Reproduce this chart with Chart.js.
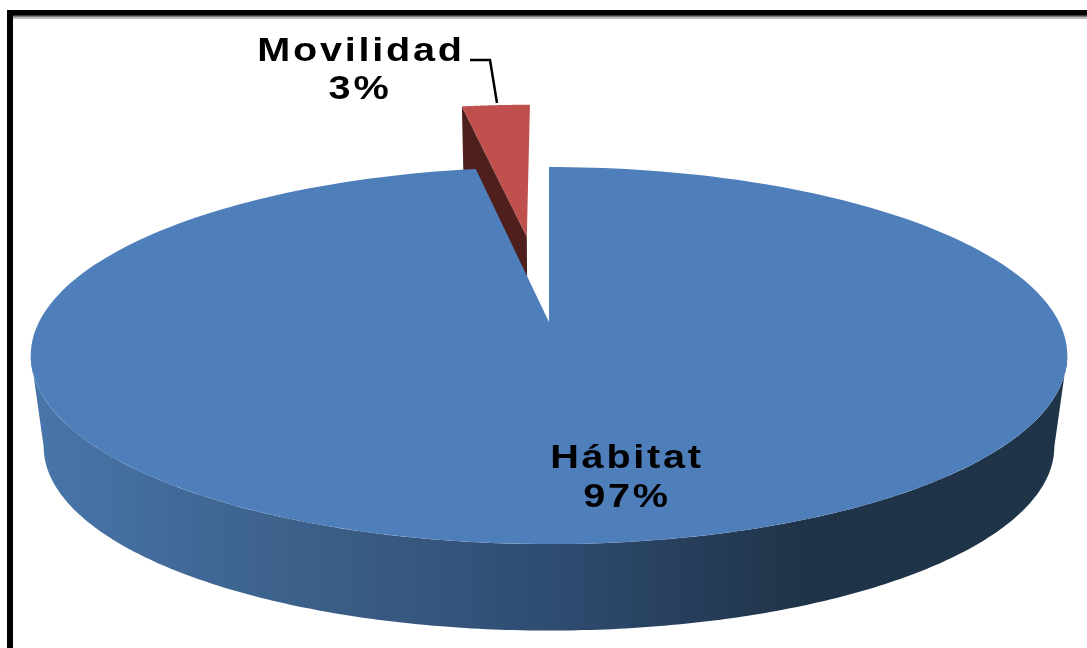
<!DOCTYPE html>
<html lang="es">
  <head>
    <meta charset="UTF-8">
    <script src="https://cdn.jsdelivr.net/npm/chart.js"></script>
    <style>
      html, body { margin: 0; padding: 0; background: #fff; overflow: hidden; }
      #pieChart { display: block; }
    </style>
  </head>
  <body>
    <canvas id="pieChart" width="1087" height="648"></canvas>

    <script>
      const categories = ['Hábitat', 'Movilidad'];
      const percentages = [97.3, 2.7];
      const sliceColors = ['#4f7fbb', '#c0504d'];
      const cutFaceColor = '#4f1f1d';
      const explode = [0, 261];   // px in the pie's own plane

      // perspective of the tilted pie
      const TILT = 0.358;         // vertical squash
      const PERSP = 0.178;        // far side shrinks, near side grows
      const DEPTH = 92;           // thickness in px
      const DEPTH_SCALE = 0.975;  // bottom rim sits further from the eye
      const EXPLODE_TURN = 0.008; // pulled slice leans a bit further left

      function project(center, radius, u, v, bottom) {
        const w = 1 + PERSP * v;
        const s = bottom ? DEPTH_SCALE : 1;
        return [
          center.x + s * radius * u / w,
          center.y + (bottom ? DEPTH : 0) - s * radius * TILT * v / w
        ];
      }

      // point on the rim of a slice, angle as Chart.js gives it
      function rimPoint(arc, angle, shift, bottom) {
        return project(arc, arc.outerRadius, Math.cos(angle) + shift.u, -Math.sin(angle) + shift.v, bottom);
      }

      function tracePoints(ctx, pts) {
        ctx.beginPath();
        pts.forEach((p, i) => i ? ctx.lineTo(p[0], p[1]) : ctx.moveTo(p[0], p[1]));
        ctx.closePath();
      }

      function topFace(arc, shift) {
        const pts = [project(arc, arc.outerRadius, shift.u, shift.v, false)];
        const steps = 240;
        for (let i = 0; i <= steps; i++) {
          const a = arc.startAngle + (arc.endAngle - arc.startAngle) * i / steps;
          pts.push(rimPoint(arc, a, shift, false));
        }
        return pts;
      }

      const pie3d = {
        id: 'pie3d',
        beforeDraw(chart) {
          const ctx = chart.ctx;
          ctx.save();
          ctx.fillStyle = '#bdbdbd';
          ctx.fillRect(13, 17, 1074, 2);
          ctx.fillStyle = '#777';
          ctx.fillRect(13, 15, 1074, 2);
          ctx.fillStyle = '#000';
          ctx.fillRect(7, 10, 1080, 5.5);
          ctx.fillRect(7, 10, 6, 638);
          ctx.restore();
        },
        beforeDatasetsDraw(chart) {
          const ctx = chart.ctx;
          const arcs = chart.getDatasetMeta(0).data;
          const shifts = arcs.map((arc) => {
            const mid = (arc.startAngle + arc.endAngle) / 2 - EXPLODE_TURN;
            const d = (arc.options.offset || 0) / arc.outerRadius;
            return { u: Math.cos(mid) * d, v: -Math.sin(mid) * d };
          });
          const blue = arcs[0];
          const red = arcs[1];

          ctx.save();

          // cut face and top of the pulled out slice
          const redA = project(red, red.outerRadius, shifts[1].u, shifts[1].v, false);
          const redB = rimPoint(red, red.startAngle, shifts[1], false);
          const redC = rimPoint(red, red.startAngle, shifts[1], true);
          const redD = project(red, red.outerRadius, shifts[1].u, shifts[1].v, true);
          tracePoints(ctx, [redA, redB, redC, redD]);
          ctx.fillStyle = cutFaceColor;
          ctx.fill();
          tracePoints(ctx, topFace(red, shifts[1]));
          ctx.fillStyle = red.options.backgroundColor;
          ctx.fill();

          // front wall of the big slice
          const wall = [];
          const steps = 240;
          const edge = Math.asin(PERSP);
          for (let i = 0; i <= steps; i++) {
            wall.push(rimPoint(blue, edge + (Math.PI - 2 * edge) * i / steps, shifts[0], false));
          }
          for (let i = steps; i >= 0; i--) {
            wall.push(rimPoint(blue, edge + (Math.PI - 2 * edge) * i / steps, shifts[0], true));
          }
          const shade = ctx.createLinearGradient(31, 0, 1068, 0);
          shade.addColorStop(0, '#4876ab');
          shade.addColorStop(0.26, '#3c6089');
          shade.addColorStop(0.5, '#2f4c72');
          shade.addColorStop(0.74, '#203449');
          shade.addColorStop(1, '#1f3349');
          tracePoints(ctx, wall);
          ctx.fillStyle = shade;
          ctx.fill();

          tracePoints(ctx, topFace(blue, shifts[0]));
          ctx.fillStyle = blue.options.backgroundColor;
          ctx.fill();

          // leader line
          ctx.strokeStyle = '#000';
          ctx.lineWidth = 2.5;
          ctx.beginPath();
          ctx.moveTo(470, 60);
          ctx.lineTo(490, 60);
          ctx.lineTo(497, 103);
          ctx.stroke();

          ctx.restore();
          return false;   // slices are done, skip the flat pie
        },
        afterDraw(chart) {
          const ctx = chart.ctx;
          const total = percentages.reduce((a, b) => a + b, 0);
          const label = (text, x, y) => {
            ctx.save();
            ctx.translate(x, y);
            ctx.scale(1.2, 1);
            ctx.font = 'bold 33px "Liberation Sans"';
            ctx.letterSpacing = '2.3px';
            ctx.textAlign = 'center';
            ctx.textBaseline = 'alphabetic';
            ctx.fillStyle = '#000';
            ctx.fillText(text, 0, 0);
            ctx.restore();
          };
          const pct = (i) => Math.round(percentages[i] / total * 100) + '%';
          label(categories[0], 627, 468);
          label(pct(0), 627, 507);
          label(categories[1], 361, 61);
          label(pct(1), 360, 99);
        }
      };

      new Chart(document.getElementById('pieChart'), {
        type: 'pie',
        data: {
          labels: categories,
          datasets: [{
            data: percentages,
            backgroundColor: sliceColors,
            borderWidth: 0,
            offset: explode,
            clip: false
          }]
        },
        options: {
          responsive: false,
          animation: false,
          radius: 510,
          layout: { padding: { left: 11, bottom: 4 } },
          plugins: {
            legend: { display: false },
            tooltip: { enabled: false },
            title: { display: false }
          }
        },
        plugins: [pie3d]
      });
    </script>
  </body>
</html>
